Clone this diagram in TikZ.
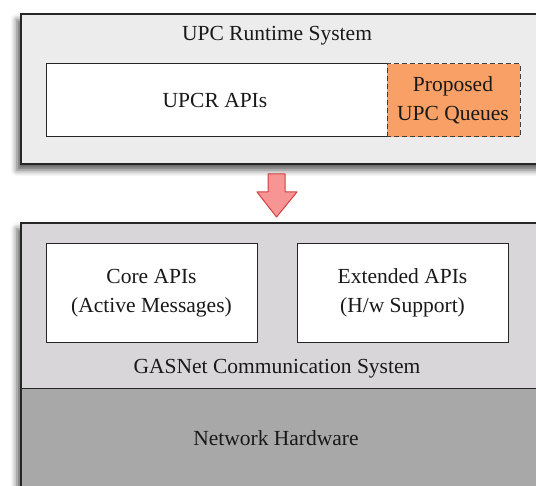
\documentclass[tikz,border=0pt]{standalone}
\usepackage{fontspec}
\setmainfont{Liberation Serif}
\usetikzlibrary{shadows.blur}
\definecolor{topfill}{HTML}{ECECEC}
\definecolor{botfill}{HTML}{D8D6D8}
\definecolor{hwfill}{HTML}{A8A8A8}
\definecolor{orfill}{HTML}{F8A066}
\definecolor{arfill}{HTML}{F79494}
\definecolor{ardraw}{HTML}{D04040}
\tikzset{
  panel/.style={draw=black!85, line width=1.2pt, blur shadow={shadow xshift=-4pt, shadow yshift=-6pt, shadow blur radius=6pt, shadow opacity=65}},
  whitebox/.style={draw=black!85, line width=1pt, fill=white},
  txt/.style={font=\fontsize{21.5}{29}\selectfont, align=center, text=black!90, inner sep=0pt},
}
\begin{document}
\begin{tikzpicture}[x=1pt,y=1pt]
\useasboundingbox (0,0) rectangle (536,486);
\clip (0,0) rectangle (536,486);
% top panel
\draw[panel, fill=topfill] (21,322) rectangle (620,472);
\node[txt] (upcrt) at (277,450) {UPC Runtime System};
\draw[whitebox] (46,349) rectangle (387,422);
\node[txt] (upcr) at (215,386) {UPCR APIs};
\draw[draw=black!75, line width=1pt, dash pattern=on 5pt off 3pt, fill=orfill] (387,349) rectangle (520,422);
\node[txt] (queues) at (453,386) {Proposed\\UPC Queues};
% arrow
\draw[draw=ardraw, line width=1pt, fill=arfill, line join=round]
  (268,312) -- (285,312) -- (285,294) -- (297,294) -- (276.5,269) -- (257,294) -- (268,294) -- cycle;
% bottom panel
\draw[panel, fill=botfill] (21,-60) rectangle (620,263);
\fill[hwfill] (21.6,-60) rectangle (620,97);
\draw[draw=black!85, line width=1pt] (21,97) -- (620,97);
\draw[whitebox] (46,143) rectangle (257,242);
\node[txt] (core) at (151.5,193) {Core APIs\\(Active Messages)};
\draw[whitebox] (297,143) rectangle (508,242);
\node[txt] (ext) at (402.5,193) {Extended APIs\\(H/w Support)};
\node[txt] (gasnet) at (277,117) {GASNet Communication System};
\node[txt] (hw) at (276,48) {Network Hardware};
\end{tikzpicture}
\end{document}
